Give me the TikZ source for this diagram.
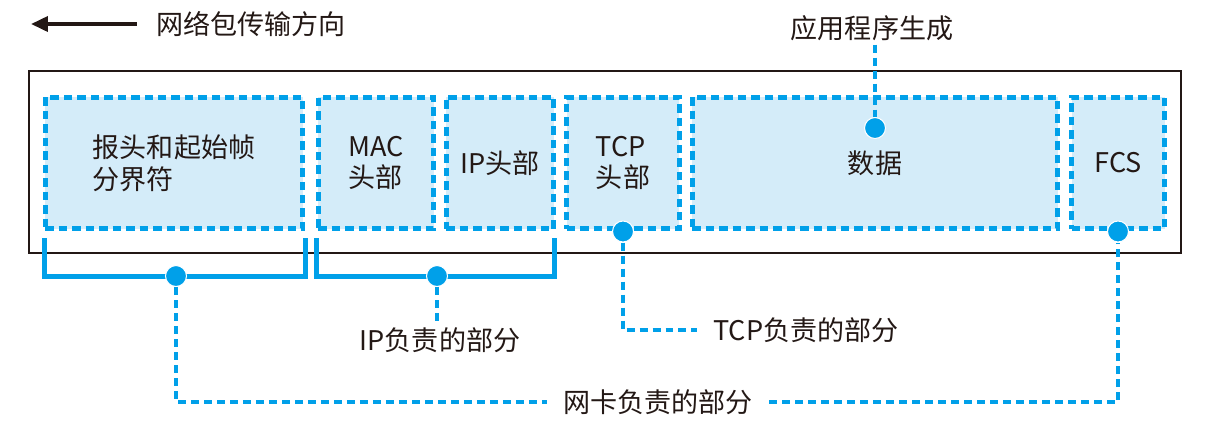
\documentclass[tikz,border=0pt]{standalone}
\usepackage{fontspec}
\newfontfamily\cjk{Noto Sans CJK SC}
\usepackage{tikz}
\usetikzlibrary{arrows.meta}
\definecolor{netblue}{HTML}{00A0E9}
\definecolor{fieldfill}{HTML}{D4ECF9}
\definecolor{inkdark}{HTML}{231815}

\begin{document}
\begin{tikzpicture}[x=0.02cm, y=-0.02cm,
	every node/.style={font=\cjk\fontsize{15.4}{18}\selectfont, text=inkdark},
	field/.style={draw=netblue, fill=fieldfill, line width=0.1cm, dash pattern=on 0.17cm off 0.1cm, minimum height=2.64cm, align=left, inner sep=0pt},
	link/.style={draw=netblue, line width=0.09cm, dash pattern=on 0.16cm off 0.1cm},
	bracket/.style={draw=netblue, line width=0.1cm},
	dot/.style={circle, fill=netblue, draw=white, line width=0.6pt, minimum size=0.42cm, inner sep=0pt},
	tag/.style={inner xsep=0.32cm, inner ysep=2pt},
	>={Triangle[length=0.34cm, width=0.3cm]}]
	\useasboundingbox (0,0) rectangle (1223,434);
	% the frame and its fields
	\node[draw=inkdark, line width=0.04cm, minimum width=23.04cm, minimum height=3.64cm, inner sep=0pt] (frame) at (605,162) {};
	\node[field, minimum width=5.16cm] (hdr) at (174,163) {报头和起始帧\\分界符};
	\node[field, minimum width=2.32cm] (mac) at (376,163) {MAC\\头部};
	\node[field, minimum width=2.16cm] (iph) at (500,163) {IP头部};
	\node[field, minimum width=2.26cm] (tcp) at (623,163) {TCP\\头部};
	\node[field, minimum width=7.32cm] (data) at (875,163) {数据};
	\node[field, minimum width=1.86cm] (fcs) at (1118,163) {FCS};
	% who handles what
	\coordinate (nicmid) at (176,276);
	\coordinate (ipmid) at (437,276);
	\draw[bracket] ([xshift=0.04cm, yshift=-0.14cm]hdr.south west) |- (nicmid) -| ([yshift=-0.14cm]hdr.south east);
	\draw[bracket] ([xshift=0.02cm, yshift=-0.14cm]mac.south west) |- (ipmid) -| ([xshift=-0.04cm, yshift=-0.14cm]iph.south east);
	\node[dot] (nicdot) at (nicmid) {};
	\node[dot] (ipdot) at (ipmid) {};
	\node[dot] (datadot) at ([yshift=0.7cm]data.center) {};
	\node[dot] (tcpdot) at (tcp.south) {};
	\node[dot] (fcsdot) at (fcs.south) {};
	\node[tag, inner xsep=0.38cm] (dirlabel) at (251,24) {网络包传输方向};
	\coordinate (dirend) at (31,24);
	\node[tag] (applabel) at (872,28) {应用程序生成};
	\node[tag] (iplabel) at (440,340) {IP负责的部分};
	\node[tag] (tcplabel) at (806,330) {TCP负责的部分};
	\node[tag] (niclabel) at (658,402) {网卡负责的部分};
	\draw[->, line width=0.075cm, inkdark] (dirlabel.west) -- (dirend);
	\draw[link] (datadot |- applabel.south) -- (datadot);
	\draw[link] (ipdot) -- (ipdot |- iplabel.north);
	\draw[link] (tcpdot) |- (tcplabel.west);
	\draw[link] (nicdot) |- (niclabel.west);
	\draw[link] (niclabel.east) -| (fcsdot);
\end{tikzpicture}
\end{document}
